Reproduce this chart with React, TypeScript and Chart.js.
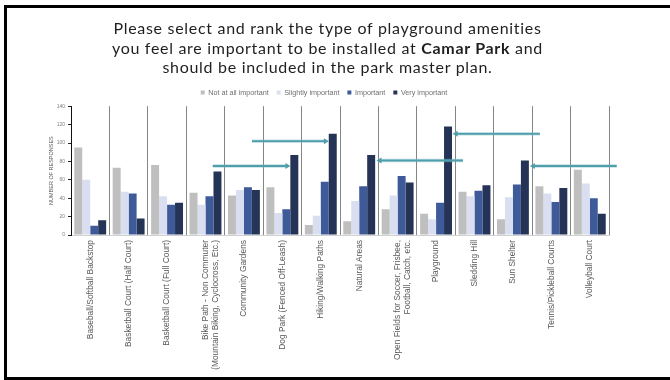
import React, { useEffect, useRef } from "react";
import { Chart, registerables } from "chart.js";

Chart.register(...registerables);

const categories: (string | string[])[] = [
  "Baseball/Softball Backstop",
  "Basketball Court (Half Court)",
  "Basketball Court (Full Court)",
  ["Bike Path - Non Commuter", "(Mountain Biking, Cyclocross, Etc.)"],
  "Community Gardens",
  "Dog Park (Fenced Off-Leash)",
  "Hiking/Walking Paths",
  "Natural Areas",
  ["Open Fields for Soccer, Frisbee,", "Football, Catch, etc."],
  "Playground",
  "Sledding Hill",
  "Sun Shelter",
  "Tennis/Pickleball Courts",
  "Volleyball Court",
];

const seriesNames = ["Not at all important", "Slightly important", "Important", "Very important"];
const notAtAll = [95, 73, 76, 46, 43, 52, 11, 15, 28, 23, 47, 17, 53, 71];
const slightly = [60, 47, 42, 33, 49, 24, 21, 37, 43, 17, 42, 41, 45, 56];
const important = [10, 45, 33, 42, 52, 28, 58, 53, 64, 35, 48, 55, 36, 40];
const veryImportant = [16, 18, 35, 69, 49, 87, 110, 87, 57, 118, 54, 81, 51, 23];
const seriesColors = ["#bfbfbf", "#d9dff0", "#3e5a98", "#243356"];

const yTicks = [0, 20, 40, 60, 80, 100, 120, 140];

// highlight arrows (category-index units, response level)
const arrowStart = [3.19, 4.21, 9.7, 11.7, 13.7];
const arrowEnd = [5.21, 6.21, 7.45, 9.43, 11.44];
const arrowLevel = [75, 102, 81, 110, 75];

const arrowPlugin = {
  id: "arrows",
  afterDatasetsDraw(chart: any) {
    const { ctx, scales } = chart;
    const xs = scales.x;
    const ys = scales.y;
    ctx.save();
    for (let i = 0; i < arrowStart.length; i++) {
      const x1 = xs.getPixelForValue(arrowStart[i]);
      const x2 = xs.getPixelForValue(arrowEnd[i]);
      const y = ys.getPixelForValue(arrowLevel[i]);
      const dir = x2 > x1 ? 1 : -1;
      ctx.strokeStyle = "rgba(120,185,195,0.45)";
      ctx.lineWidth = 3.5;
      ctx.beginPath();
      ctx.moveTo(x1, y);
      ctx.lineTo(x2 - dir * 3, y);
      ctx.stroke();
      ctx.strokeStyle = "#4e9fab";
      ctx.lineWidth = 1.8;
      ctx.beginPath();
      ctx.moveTo(x1, y);
      ctx.lineTo(x2 - dir * 3, y);
      ctx.stroke();
      ctx.fillStyle = "#4e9fab";
      ctx.beginPath();
      ctx.moveTo(x2, y);
      ctx.lineTo(x2 - dir * 5, y - 3);
      ctx.lineTo(x2 - dir * 5, y + 3);
      ctx.closePath();
      ctx.fill();
    }
    ctx.restore();
  },
};

function ChartView() {
  const ref = useRef<HTMLCanvasElement | null>(null);
  useEffect(() => {
    if (!ref.current) return;
    const values = [notAtAll, slightly, important, veryImportant];
    const chart = new Chart(ref.current, {
      type: "bar",
      data: {
        labels: categories,
        datasets: values.map((v, i) => ({
          label: seriesNames[i],
          data: v,
          backgroundColor: seriesColors[i],
          borderWidth: 0,
          categoryPercentage: 0.83,
          barPercentage: 1,
        })),
      },
      options: {
        animation: false,
        responsive: false,
        maintainAspectRatio: false,
        layout: { padding: { left: 39, right: 61, top: 81, bottom: 0 } },
        plugins: {
          title: { display: false },
          tooltip: { enabled: false },
          legend: {
            display: true,
            position: "top",
            labels: {
              boxWidth: 4,
              boxHeight: 4,
              padding: 8,
              color: "#6f6f6f",
              font: { family: "'Liberation Sans', Arial, sans-serif", size: 7.2 },
            },
          },
        },
        scales: {
          x: {
            offset: true,
            grid: {
              display: true,
              offset: true,
              drawOnChartArea: true,
              drawTicks: false,
              color: "#858585",
              lineWidth: 1,
            },
            border: { display: true, color: "#d0d0d0", width: 1 },
            ticks: {
              autoSkip: false,
              minRotation: 90,
              maxRotation: 90,
              padding: 5,
              color: "#595959",
              font: { family: "'Liberation Sans', Arial, sans-serif", size: 8.4 },
            },
            afterFit: (s: any) => {
              s.height = 145;
            },
          },
          y: {
            min: 0,
            max: 140,
            afterBuildTicks: (s: any) => {
              s.ticks = yTicks.map((v) => ({ value: v }));
            },
            grid: {
              display: true,
              drawOnChartArea: false,
              drawTicks: true,
              tickLength: 3,
              color: "#222",
            },
            border: { display: true, color: "#111", width: 1 },
            ticks: {
              padding: 3,
              color: "#7f7f7f",
              font: { family: "'Liberation Sans', Arial, sans-serif", size: 5 },
            },
            title: {
              display: true,
              text: "NUMBER OF RESPONSES",
              color: "#595959",
              padding: { top: 9, bottom: 0 },
              font: { family: "'Liberation Sans', Arial, sans-serif", size: 5.5 },
            },
            afterFit: (s: any) => {
              s.width = 32;
            },
          },
        },
      },
      plugins: [arrowPlugin],
    });
    return () => chart.destroy();
  }, []);
  return (
    <canvas
      ref={ref}
      width={670}
      height={380}
      style={{ position: "absolute", left: 0, top: 0, width: 670, height: 380 }}
    />
  );
}

export default function App() {
  return (
    <div
      style={{
        position: "absolute",
        left: 0,
        top: 0,
        width: 670,
        height: 380,
        background: "#fff",
        overflow: "hidden",
      }}
    >
      <div
        style={{
          position: "absolute",
          left: 4,
          top: 5,
          width: 720,
          height: 369,
          borderLeft: "3px solid #000",
          borderTop: "3px solid #000",
          borderBottom: "3px solid #000",
        }}
      />
      <ChartView />
      <div
        style={{
          position: "absolute",
          left: 0,
          top: 18,
          width: 655,
          textAlign: "center",
          fontFamily: "Lato, 'Liberation Sans', sans-serif",
          fontSize: 16,
          letterSpacing: "0.7px",
          lineHeight: "19.5px",
          color: "#1f1f1f",
        }}
      >
        Please select and rank the type of playground amenities
        <br />
        you feel are important to be installed at <b>Camar Park</b> and
        <br />
        should be included in the park master plan.
      </div>
    </div>
  );
}
